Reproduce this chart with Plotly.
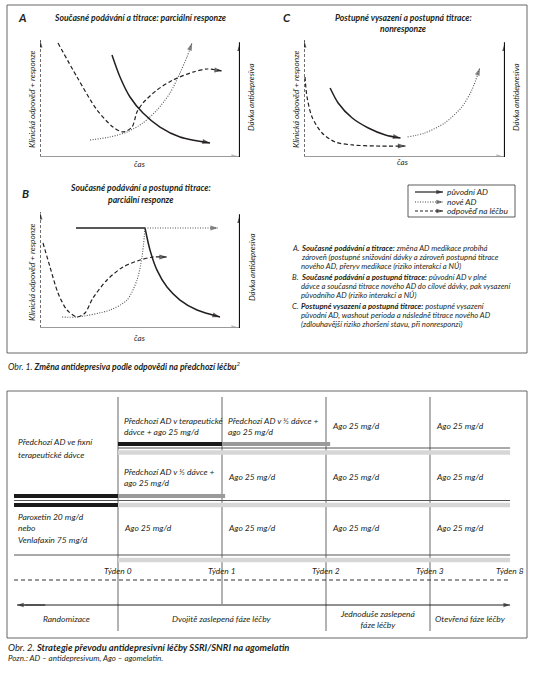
import plotly.graph_objects as go

W, H = 533, 675
FONT = "Lato, 'Open Sans', 'DejaVu Sans', sans-serif"
INK = "#231f20"

# ---------------- Obr. 1 : schematic curves (arbitrary units 0-10) ----------------
# Panel A
a_resp_t = [0.9, 1.85, 2.85, 3.65, 4.15, 4.6, 4.85, 5.15, 5.85, 6.65, 7.65, 8.35, 9.1]
a_resp_v = [9.74, 6.84, 4.02, 2.56, 2.14, 2.56, 3.85, 4.62, 5.73, 6.58, 7.26, 7.52, 7.35]
a_new_t = [2.5, 3.5, 4.35, 5.15, 5.85, 6.5, 7.0, 7.35, 7.6]
a_new_v = [1.45, 1.71, 2.14, 2.91, 4.02, 5.47, 7.18, 8.55, 9.74]
a_orig_t = [3.6, 4.0, 4.5, 5.15, 6.0, 7.0, 8.5]
a_orig_v = [8.72, 6.84, 5.13, 3.76, 2.56, 1.71, 1.2]
# Panel B
b_orig_flat_t = [1.8, 5.25]
b_orig_flat_v = [8.62, 8.62]
b_orig_t = [5.25, 5.5, 5.85, 6.35, 7.0, 7.85, 9.0]
b_orig_v = [8.62, 6.72, 4.99, 3.53, 2.41, 1.55, 0.95]
b_new_t = [1.1, 1.85, 3.5, 4.35, 4.85, 5.1, 5.25]
b_new_v = [0.95, 0.95, 1.55, 2.41, 4.14, 6.12, 8.62]
b_new_flat_t = [5.25, 8.9]
b_new_flat_v = [8.62, 8.62]
b_resp_t = [0.15, 0.5, 0.9, 1.35, 1.85, 2.25, 2.65, 3.35, 4.15, 5.0, 5.65, 6.35]
b_resp_v = [7.33, 5.26, 3.02, 1.55, 0.95, 1.29, 2.59, 4.14, 5.26, 5.86, 6.12, 6.12]
# Panel C
c_resp_t = [0.05, 0.15, 0.4, 0.9, 1.55, 2.4, 3.55, 5.05]
c_resp_v = [6.84, 5.13, 3.42, 2.05, 1.28, 1.03, 0.94, 0.94]
c_orig_t = [1.3, 1.7, 2.4, 3.2, 4.05, 4.8]
c_orig_v = [5.9, 4.62, 3.33, 2.48, 1.88, 1.62]
c_new_t = [5.15, 6.0, 7.0, 7.85, 8.35, 8.75]
c_new_v = [1.71, 2.05, 2.91, 4.27, 5.73, 7.61]

legend_labels = ["původní AD", "nové AD", "odpověď na léčbu"]

panel_titles = {
    "A": ["Současné podávání a titrace: parciální responze"],
    "B": ["Současné podávání a postupná titrace:", "parciální responze"],
    "C": ["Postupné vysazení a postupná titrace:", "nonresponze"],
}
y_label = "Klinická odpověď + responze"
r_label = "Dávka antidepresiva"
x_label = "čas"

notes = [
    ("A.", ["Současné podávání a titrace: změna AD medikace probíhá",
            "zároveň (postupné snižování dávky a zároveň postupná titrace",
            "nového AD, přeryv medikace (riziko interakcí a NÚ)"]),
    ("B.", ["Současné podávání a postupná titrace: původní AD v plné",
            "dávce a současná titrace nového AD do cílové dávky, pak vysazení",
            "původního AD (riziko interakcí a NÚ)"]),
    ("C.", ["Postupné vysazení a postupná titrace: postupné vysazení",
            "původní AD, washout perioda a následně titrace nového AD",
            "(zdlouhavější riziko zhoršení stavu, při nonresponzi)"]),
]

# ---------------- Obr. 2 : switching schedule ----------------
weeks = ["Týden 0", "Týden 1", "Týden 2", "Týden 3", "Týden 8"]
week_pos = [1, 2, 3, 4, 4.77]
row_labels = [["Předchozí AD ve fixní", "terapeutické dávce"],
              ["Paroxetin 20 mg/d", "nebo", "Venlafaxin 75 mg/d"]]
row1_cells = ["Předchozí AD v terapeutické<br>dávce + ago 25 mg/d",
              "Předchozí AD v ½ dávce +<br>ago 25 mg/d", "Ago 25 mg/d", "Ago 25 mg/d"]
row2_cells = ["Předchozí AD v ½ dávce +<br>ago 25 mg/d", "Ago 25 mg/d", "Ago 25 mg/d", "Ago 25 mg/d"]
row3_cells = ["Ago 25 mg/d", "Ago 25 mg/d", "Ago 25 mg/d", "Ago 25 mg/d"]
phases = ["Randomizace", "Dvojitě zaslepená fáze léčby",
          "Jednoduše zaslepená<br>fáze léčby", "Otevřená fáze léčby"]
phase_bounds = [0, 1, 3, 4, 4.77]
# dose bars: (start week-slot, end week-slot, kind)
bars_row1 = [(1, 2, "full"), (2, 3.04, "half")]
bars_row1_ago = [(1, 4.77, "ago")]
bars_row2 = [(0, 1, "full"), (1, 2.03, "half")]
bars_row3 = [(0, 1, "full"), (1, 4.77, "ago")]
bars_bottom = [(1, 4.77, "ago")]

# ---------------- figure ----------------
def px(x):
    return x / W


def py(y):
    return 1 - y / H


fig = go.Figure()
annotations = []
shapes = []


def text(x, y, s, size=7.5, xanchor="left", angle=0, color=INK, xref="paper", yref="paper", xshift=0):
    annotations.append(dict(
        x=px(x) if xref == "paper" else x, y=py(y) if yref == "paper" else y,
        xref=xref, yref=yref, text=s, showarrow=False, xanchor=xanchor, yanchor="middle",
        textangle=angle, xshift=xshift, borderpad=0,
        font=dict(family=FONT, size=size, color=color), align="left" if xanchor == "left" else "center"))


def line(xs, ys, xa, ya, color=INK, width=1.3, dash="solid", arrow=False, spline=True, asize=8):
    fig.add_trace(go.Scatter(x=xs, y=ys, xaxis=xa, yaxis=ya, mode="lines",
                             line=dict(color=color, width=width, dash=dash,
                                       shape="spline" if spline else "linear", smoothing=0.8),
                             hoverinfo="skip"))
    if arrow:
        fig.add_trace(go.Scatter(x=xs[-2:], y=ys[-2:], xaxis=xa, yaxis=ya, mode="markers",
                                 marker=dict(symbol="arrow", angleref="previous", size=[0, asize],
                                             color=color, line=dict(width=0)),
                                 hoverinfo="skip"))


panels = [("A", "x", "y", (40, 240), (40, 157)),
          ("B", "x2", "y2", (40, 240), (212, 328)),
          ("C", "x3", "y3", (304, 505), (40, 157))]
layout_axes = {}
for name, xa, ya, (x0, x1), (y0, y1) in panels:
    xk = "xaxis" + xa[1:]
    yk = "yaxis" + ya[1:]
    layout_axes[xk] = dict(domain=[px(x0), px(x1)], range=[0, 10], visible=False, fixedrange=True)
    layout_axes[yk] = dict(domain=[py(y1), py(y0)], range=[0, 10], visible=False, fixedrange=True)
    # axes of the schematic
    line([0, 0], [0, 10], xa, ya, color="#111", width=1.2, dash="3px,2px", arrow=True, spline=False, asize=8)
    line([0, 10], [0, 0], xa, ya, color="#9a9a9a", width=2, arrow=True, spline=False, asize=9)
    line([10, 10], [0, 9.8], xa, ya, color="#111", width=2.2, arrow=True, spline=False, asize=9)

# Panel A curves
line(a_resp_t, a_resp_v, "x", "y", dash="4px,2.5px", width=1.2, arrow=True)
line(a_new_t, a_new_v, "x", "y", color="#555", dash="1px,1.5px", width=1.1, arrow=True)
line(a_orig_t, a_orig_v, "x", "y", width=1.5, arrow=True)
# Panel B curves
line(b_orig_flat_t, b_orig_flat_v, "x2", "y2", width=1.5, spline=False)
line(b_orig_t, b_orig_v, "x2", "y2", width=1.5, arrow=True)
line(b_new_t, b_new_v, "x2", "y2", color="#555", dash="1px,1.5px", width=1.1)
line(b_new_flat_t, b_new_flat_v, "x2", "y2", color="#555", dash="1px,1.5px", width=1.1, arrow=True, spline=False)
line(b_resp_t, b_resp_v, "x2", "y2", dash="4px,2.5px", width=1.2, arrow=True)
# Panel C curves
line(c_resp_t, c_resp_v, "x3", "y3", dash="4px,2.5px", width=1.2, arrow=True)
line(c_orig_t, c_orig_v, "x3", "y3", width=1.5, arrow=True)
line(c_new_t, c_new_v, "x3", "y3", color="#555", dash="1px,1.5px", width=1.1, arrow=True)

# panel texts
letters = {"A": (22, 18), "B": (25, 193), "C": (287, 18)}
title_pos = {"A": (140, [18]), "B": (140, [188, 200]), "C": (403, [18, 29])}
ylab_pos = {"A": (32, 99, 251, 98), "B": (32, 272, 252, 268), "C": (296, 99, 516, 98)}
xlab_pos = {"A": (140, 164), "B": (140, 338), "C": (403, 162)}
for k in "ABC":
    lx, ly = letters[k]
    text(lx, ly, "<b><i>%s</i></b>" % k, size=11.5, xanchor="center")
    tx, tys = title_pos[k]
    for s, ty in zip(panel_titles[k], tys):
        text(tx, ty, "<b><i>%s</i></b>" % s, size=8.6, xanchor="center")
    a, b, c, d = ylab_pos[k]
    text(a, b, "<i>%s</i>" % y_label, size=8.3, xanchor="center", angle=-90)
    text(c, d, "<i>%s</i>" % r_label, size=8.0, xanchor="center", angle=-90)
    cx, cy = xlab_pos[k]
    text(cx, cy, "<i>%s</i>" % x_label, size=8.0, xanchor="center")

# legend (own pixel-scaled axis)
layout_axes["xaxis5"] = dict(domain=[px(408), px(515)], range=[408, 515], visible=False, fixedrange=True)
layout_axes["yaxis5"] = dict(domain=[py(217), py(185)], range=[217, 185], visible=False, fixedrange=True)
leg_styles = [("solid", 1.2, INK), ("1px,1.5px", 1.0, "#444"), ("3px,2px", 1.1, INK)]
for lab, (dash, wd, col), yy in zip(legend_labels, leg_styles, [192, 202, 211]):
    line([415, 443], [yy, yy], "x5", "y5", color=col, width=wd, dash=dash, arrow=True, spline=False, asize=7)
    text(446, yy, "<i>%s</i>" % lab, size=8.4)
shapes.append(dict(type="rect", xref="paper", yref="paper", x0=px(408), x1=px(515), y0=py(217), y1=py(185),
                   line=dict(color="#333", width=0.8)))

# notes
note_y = [[248, 257, 266], [277, 286, 295], [306, 315, 324]]
for (lt, lines), ys in zip(notes, note_y):
    text(291, ys[0], "<i>%s</i>" % lt, size=7.7)
    for s, yy in zip(lines, ys):
        if s is lines[0]:
            head, tail = s.split(":", 1)
            s = "<b><i>%s:</i></b><i>%s</i>" % (head, tail)
        else:
            s = "<i>%s</i>" % s
        text(300, yy, s, size=7.7)

# frames
shapes.append(dict(type="rect", xref="paper", yref="paper", x0=px(7), x1=px(527), y0=py(353), y1=py(5),
                   line=dict(color="#666", width=1)))
shapes.append(dict(type="rect", xref="paper", yref="paper", x0=px(7), x1=px(527), y0=py(638), y1=py(391),
                   line=dict(color="#666", width=1)))

text(7, 366, "<i>Obr. 1. <b>Změna antidepresiva podle odpovědi na předchozí léčbu</b><sup>2</sup></i>", size=8.6)
text(7, 647, "<i>Obr. 2. <b>Strategie převodu antidepresivní léčby SSRI/SNRI na agomelatin</b></i>", size=9.4)
text(7, 658, "<i>Pozn.: AD – antidepresivum, Ago – agomelatin.</i>", size=8.0)

# ---------------- Obr. 2 drawing on week axis ----------------
layout_axes["xaxis4"] = dict(domain=[px(7), px(527)], range=[(7 - 14) / 104, (527 - 14) / 104],
                             visible=False, fixedrange=True)
layout_axes["yaxis4"] = dict(domain=[py(638), py(391)], range=[638, 391], visible=False, fixedrange=True)

vline_bottom = [631, 604, 631, 631]
for wp, yb in zip(week_pos[:4], vline_bottom):
    line([wp, wp], [397, yb], "x4", "y4", color="#808080", width=1.2, spline=False)

bar_style = {"full": ("#1a1a1a", 4), "half": ("#9a9a9a", 4), "ago": ("#d6d6d6", 4.5)}


def draw_bars(segs, yy):
    for x0, x1, kind in segs:
        col, wd = bar_style[kind]
        line([x0, x1], [yy, yy], "x4", "y4", color=col, width=wd, spline=False)


draw_bars(bars_row1, 444)
line([1, week_pos[-1]], [448, 448], "x4", "y4", color="#555", width=1, spline=False)
draw_bars(bars_row1_ago, 452.5)
draw_bars(bars_row2, 496)
line([0, week_pos[-1]], [500.5, 500.5], "x4", "y4", color="#555", width=1, spline=False)
draw_bars(bars_row3, 505)
line([0, week_pos[-1]], [555, 555], "x4", "y4", color="#555", width=1, spline=False)
draw_bars(bars_bottom, 560)
line([0, week_pos[-1]], [580, 580], "x4", "y4", color="#333", width=1, dash="4px,3px", spline=False)
# double-headed time arrow
line([0.1, week_pos[-1]], [605, 605], "x4", "y4", color="#222", width=1.1, arrow=True, spline=False, asize=7)
line([0.3, 0.03], [605, 605], "x4", "y4", color="#222", width=1.1, arrow=True, spline=False, asize=7)

for lab, wp in zip(weeks, week_pos):
    text(wp, 571, "<i>%s</i>" % lab, size=8.4, xanchor="center", xref="x4", yref="y4")

for cells, yy in [(row1_cells, 426), (row2_cells, 477), (row3_cells, 528)]:
    for s, wp in zip(cells, week_pos[:4]):
        text(wp, yy, "<i>%s</i>" % s, size=8.5, xref="x4", yref="y4", xshift=5)

for s, yy in zip(row_labels[0], [442, 455]):
    text(17, yy, "<i>%s</i>" % s, size=8.5)
for s, yy in zip(row_labels[1], [517, 528, 540]):
    text(17, yy, "<i>%s</i>" % s, size=8.5)

phase_y = [619, 619, 619.5, 619]
for s, a, b, yy in zip(phases, phase_bounds[:-1], phase_bounds[1:], phase_y):
    text((a + b) / 2, yy, "<i>%s</i>" % s, size=8.5, xanchor="center", xref="x4", yref="y4")

fig.update_layout(width=W, height=H, margin=dict(l=0, r=0, t=0, b=0),
                  paper_bgcolor="white", plot_bgcolor="rgba(0,0,0,0)", showlegend=False,
                  annotations=annotations, shapes=shapes, **layout_axes)
fig.write_html("out.html", config={"displayModeBar": False},
               post_script="document.body.style.margin='0px';document.body.style.overflow='hidden';")
